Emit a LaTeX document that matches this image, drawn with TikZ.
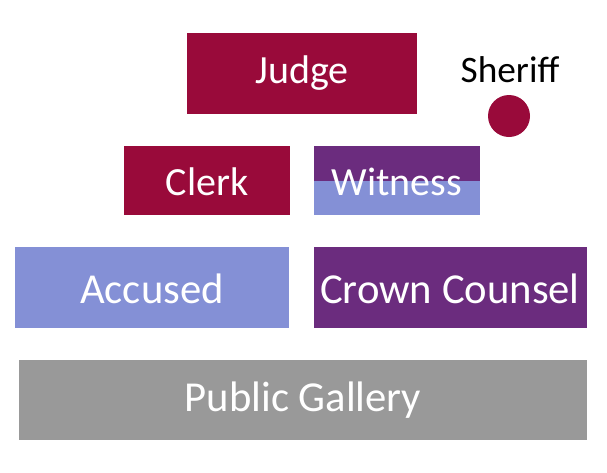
\documentclass[tikz,border=0pt]{standalone}
\usepackage{fontspec}
\setmainfont{Carlito}
\definecolor{crim}{HTML}{990A3A}
\definecolor{purp}{HTML}{6B2C7E}
\definecolor{lav}{HTML}{8490D6}
\definecolor{gal}{HTML}{999999}
\begin{document}
\begin{tikzpicture}[x=0.75pt,y=-0.75pt,
  box/.style={anchor=north west,inner sep=0,minimum width=#1*0.75pt},
  lbl/.style={text=white,font=\fontsize{30}{30}\selectfont}]
\useasboundingbox (0,0) rectangle (607,472);
\fill[crim] (187,33) rectangle (417,114) coordinate (jbr);
\node[lbl] (judge) at (302,73) {Judge};
\node[font=\fontsize{28}{28}\selectfont] (sheriff) at (510,70) {Sheriff};
\fill[crim] (509,116) circle (21);
\fill[crim] (124,146) rectangle (290,215);
\node[lbl] (clerk) at (207,182) {Clerk};
\fill[purp] (314,146) rectangle (480,181);
\fill[lav] (314,181) rectangle (480,215);
\node[lbl] (witness) at (397,182) {Witness};
\fill[lav] (15,247) rectangle (289,328);
\node[lbl,font=\fontsize{32}{32}\selectfont] (accused) at (152,289) {Accused};
\fill[purp] (314,247) rectangle (587,328);
\node[lbl,font=\fontsize{32}{32}\selectfont] (crown) at (450,289) {Crown Counsel};
\fill[gal] (19,360) rectangle (587,440);
\node[lbl,font=\fontsize{32}{32}\selectfont] (gallery) at (303,400) {Public Gallery};
\end{tikzpicture}
\end{document}
